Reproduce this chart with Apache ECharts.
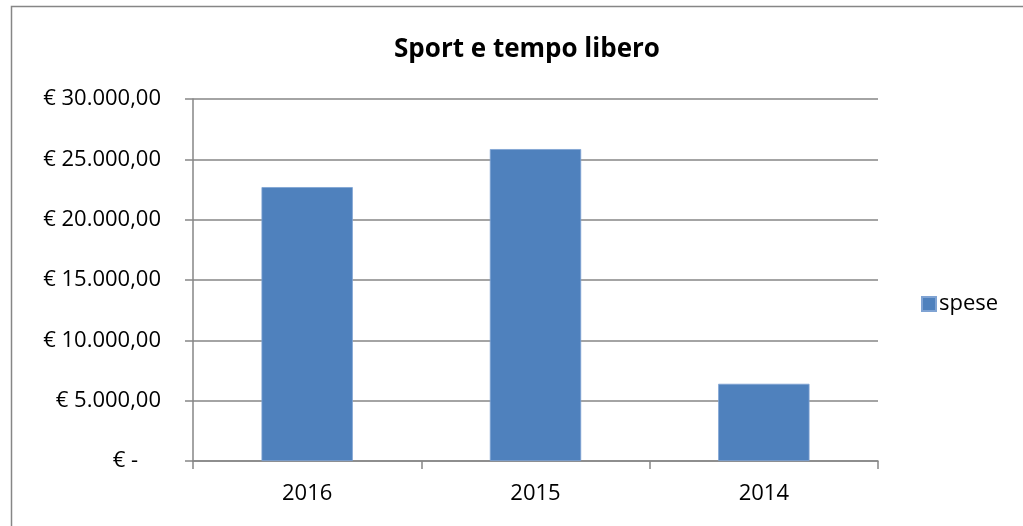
<!DOCTYPE html>
<html>
<head>
<meta charset="utf-8">
<script src="https://cdn.jsdelivr.net/npm/echarts@6/dist/echarts.min.js"></script>
<style>
  html, body { margin: 0; padding: 0; background: #fff; }
  #main { width: 1023px; height: 526px; }
</style>
</head>
<body>
<div id="main"></div>
<script>
// dati del grafico
var anni = ['2016', '2015', '2014'];
var spese = [22700, 25850, 6400];
var titolo = 'Sport e tempo libero';
var nomeSerie = 'spese';

var myChart = echarts.init(document.getElementById('main'));

// formato contabile italiano
function euro(v) {
  if (v === 0) return '€ -    ';
  var s = v.toFixed(2).split('.');
  var intero = s[0].replace(/\B(?=(\d{3})+(?!\d))/g, '.');
  return '€ ' + intero + ',' + s[1];
}

var font = 'Open Sans';

const option = {
  animation: false,
  textStyle: { fontFamily: font },
  title: {
    text: titolo,
    left: 522,
    textAlign: 'center',
    top: 32,
    textStyle: { fontSize: 26, fontWeight: 'bold', color: '#000', fontFamily: font }
  },
  legend: {
    data: [nomeSerie],
    left: 916,
    top: 288,
    itemWidth: 14,
    itemHeight: 14,
    itemGap: 5,
    icon: 'rect',
    textStyle: { fontSize: 22, color: '#000', fontFamily: font, padding: [0, 0, 0, -2] }
  },
  grid: {
    left: 193,
    right: 1023 - 878,
    top: 99,
    bottom: 526 - 461
  },
  xAxis: {
    type: 'category',
    data: anni,
    axisLine: { lineStyle: { color: '#868686', width: 1.5 } },
    axisTick: { show: true, length: 8, lineStyle: { color: '#868686', width: 1.5 } },
    axisLabel: { fontSize: 22, color: '#000', margin: 22, fontFamily: font }
  },
  yAxis: {
    type: 'value',
    min: 0,
    max: 30000,
    interval: 5000,
    axisLine: { show: true, lineStyle: { color: '#868686', width: 1.5 } },
    axisTick: { show: true, inside: false, length: 8, lineStyle: { color: '#868686', width: 1.5 } },
    splitLine: { lineStyle: { color: '#868686', width: 1.5 } },
    axisLabel: {
      fontSize: 22, color: '#000', margin: 32, fontFamily: font,
      formatter: euro
    }
  },
  series: [{
    name: nomeSerie,
    type: 'bar',
    data: spese,
    barWidth: '40%',
    itemStyle: { color: '#4F81BD', borderColor: '#7fa3d3', borderWidth: 0.8 }
  }],
  graphic: [{
    type: 'rect',
    shape: { x: 11.5, y: 6.5, width: 1030, height: 540 },
    style: { fill: 'none', stroke: '#868686', lineWidth: 1.5 },
    silent: true
  }]
};
myChart.setOption(option);
</script>
</body>
</html>
